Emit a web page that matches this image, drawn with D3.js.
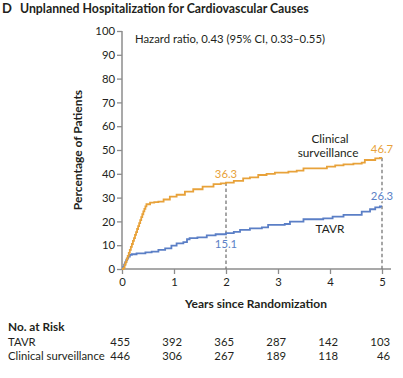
<!DOCTYPE html>
<html>
<head>
<meta charset="utf-8">
<script src="https://cdn.jsdelivr.net/npm/d3@7"></script>
<style>
  html, body { margin: 0; padding: 0; background: #fff; }
  svg { display: block; font-family: "Lato", "Open Sans", sans-serif; }
</style>
</head>
<body>
<div id="chart"></div>
<script>
// ---- data ----
const xTicks = [0, 1, 2, 3, 4, 5];
const yTicks = [0, 10, 20, 30, 40, 50, 60, 70, 80, 90, 100];

const survT = [0, 0.03, 0.05, 0.07, 0.09, 0.11, 0.13, 0.15, 0.17, 0.19, 0.21, 0.23, 0.25, 0.27, 0.29, 0.31, 0.33, 0.35, 0.37, 0.39, 0.41, 0.43, 0.45, 0.47, 0.54, 0.62, 0.7, 0.8, 0.92, 1.05, 1.21, 1.37, 1.55, 1.76, 1.9, 2.0, 2.15, 2.33, 2.46, 2.62, 2.78, 2.94, 3.2, 3.36, 3.49, 3.71, 3.94, 4.1, 4.26, 4.45, 4.61, 4.67, 4.87, 4.96, 5.0];
const survV = [0, 0.5, 1.8, 3.0, 4.3, 5.5, 6.8, 8.0, 9.3, 10.5, 11.8, 13.0, 14.3, 15.5, 16.8, 18.0, 19.3, 20.5, 21.8, 23.0, 24.2, 25.3, 26.3, 27.2, 27.9, 28.1, 28.3, 29.2, 30.4, 31.2, 32.5, 33.5, 34.6, 35.7, 36.0, 36.3, 37.0, 38.1, 38.5, 39.5, 40.0, 40.5, 40.9, 41.3, 42.3, 42.3, 43.0, 43.5, 44.0, 44.3, 44.7, 45.8, 46.5, 46.7, 46.7];

const tavrT = [0, 0.02, 0.04, 0.06, 0.08, 0.1, 0.12, 0.15, 0.19, 0.28, 0.45, 0.57, 0.7, 0.83, 0.95, 1.05, 1.18, 1.25, 1.3, 1.45, 1.63, 1.8, 2.0, 2.15, 2.27, 2.46, 2.69, 2.81, 3.13, 3.23, 3.49, 3.71, 3.87, 4.05, 4.26, 4.51, 4.61, 4.77, 4.87, 4.96, 5.0];
const tavrV = [0, 0.8, 1.8, 2.8, 3.7, 4.5, 5.2, 5.9, 6.2, 6.6, 7.0, 7.3, 8.0, 8.7, 9.8, 10.8, 11.3, 12.5, 13.0, 13.3, 14.1, 14.6, 15.1, 15.6, 16.4, 17.1, 17.5, 18.5, 18.9, 19.9, 20.9, 20.9, 21.3, 22.0, 22.7, 22.7, 24.1, 25.1, 25.9, 26.3, 26.3];

const markerYears = [2, 5];
const survMarks = [36.3, 46.7];
const tavrMarks = [15.1, 26.3];

const riskLabels = ["TAVR", "Clinical surveillance"];
const riskTAVR = [455, 392, 365, 287, 142, 103];
const riskSurv = [446, 306, 267, 189, 118, 46];

// ---- drawing ----
const W = 403, H = 378;
const orange = "#E8A23A", blue = "#5B7FC6", axisCol = "#8c8c8c", txt = "#231f20";

const svg = d3.select("#chart").append("svg").attr("width", W).attr("height", H);

const x = d3.scaleLinear().domain([0, 5]).range([122, 382]);
const y = d3.scaleLinear().domain([0, 100]).range([269, 31]);

// title
svg.append("text").attr("x", 2).attr("y", 13).attr("font-weight", 700).attr("font-size", 13)
  .attr("fill", txt).text("D");
svg.append("text").attr("x", 20).attr("y", 13).attr("font-weight", 700).attr("font-size", 12.3)
  .attr("fill", txt).text("Unplanned Hospitalization for Cardiovascular Causes");

// axes
const yAxis = d3.axisLeft(y).tickValues(yTicks).tickSize(5).tickPadding(2).tickFormat(d3.format("d"));
const gy = svg.append("g").attr("transform", `translate(${x(0)},0)`).call(yAxis);
gy.select(".domain").remove();
gy.append("line").attr("x1", 0).attr("x2", 0).attr("y1", y(100)).attr("y2", y(0))
  .attr("stroke", axisCol).attr("stroke-width", 1.5);
gy.selectAll(".tick line").attr("stroke", axisCol).attr("stroke-width", 1.3);
gy.selectAll(".tick text").attr("font-size", 11.3).attr("fill", txt).attr("font-family", "Lato, sans-serif");

const xAxis = d3.axisBottom(x).tickValues(xTicks).tickSize(5).tickPadding(4).tickFormat(d3.format("d"));
const gx = svg.append("g").attr("transform", `translate(0,${y(0)})`).call(xAxis);
gx.select(".domain").remove();
gx.append("line").attr("x1", x(0)).attr("x2", 391).attr("y1", 0).attr("y2", 0)
  .attr("stroke", axisCol).attr("stroke-width", 1.5);
gx.selectAll(".tick line").attr("stroke", axisCol).attr("stroke-width", 1.3);
gx.selectAll(".tick text").attr("font-size", 11.3).attr("fill", txt).attr("font-family", "Lato, sans-serif");

// axis titles
svg.append("text").attr("transform", "translate(82,150) rotate(-90)").attr("text-anchor", "middle")
  .attr("font-weight", 700).attr("font-size", 12).attr("fill", txt).text("Percentage of Patients");
svg.append("text").attr("x", 256).attr("y", 308).attr("text-anchor", "middle")
  .attr("font-weight", 700).attr("font-size", 12).attr("fill", txt).text("Years since Randomization");

// hazard ratio
svg.append("text").attr("x", 135).attr("y", 43).attr("font-size", 11.3).attr("fill", txt)
  .text("Hazard ratio, 0.43 (95% CI, 0.33\u20130.55)");

// dashed markers
markerYears.forEach((t, i) => {
  svg.append("line").attr("x1", x(t)).attr("x2", x(t)).attr("y1", y(survMarks[i])).attr("y2", y(0))
    .attr("stroke", "#777").attr("stroke-width", 1.3).attr("stroke-dasharray", "3.5,2.5");
});

// curves
const line = d3.line().x(d => x(d[0])).y(d => y(d[1])).curve(d3.curveStepAfter);
svg.append("path").datum(d3.zip(tavrT, tavrV)).attr("d", line)
  .attr("fill", "none").attr("stroke", blue).attr("stroke-width", 1.8);
svg.append("path").datum(d3.zip(survT, survV)).attr("d", line)
  .attr("fill", "none").attr("stroke", orange).attr("stroke-width", 1.8);

// value labels
function valLabel(t, v, dy, col) {
  svg.append("text").attr("x", x(t)).attr("y", y(v) + dy).attr("text-anchor", "middle")
    .attr("font-size", 11.3).attr("fill", col)
    .attr("stroke", "#fff").attr("stroke-width", 3).attr("paint-order", "stroke")
    .text(v.toFixed(1));
}
valLabel(2, survMarks[0], -5, orange);
valLabel(2, tavrMarks[0], 15, blue);
valLabel(5, survMarks[1], -5, orange);
valLabel(5, tavrMarks[1], -6, blue);

// series labels
svg.append("text").attr("x", 330).attr("y", 143).attr("text-anchor", "middle")
  .attr("font-size", 11.8).attr("fill", txt).text("Clinical");
svg.append("text").attr("x", 328).attr("y", 157).attr("text-anchor", "middle")
  .attr("font-size", 11.8).attr("fill", txt).text("surveillance");
svg.append("text").attr("x", 330).attr("y", 233).attr("text-anchor", "middle")
  .attr("font-size", 11.8).attr("fill", txt).text("TAVR");

// number at risk
svg.append("text").attr("x", 8).attr("y", 331).attr("font-weight", 700).attr("font-size", 11.8)
  .attr("fill", txt).text("No. at Risk");
const rows = [riskTAVR, riskSurv];
rows.forEach((vals, r) => {
  const yy = 346 + r * 14;
  svg.append("text").attr("x", 8).attr("y", yy).attr("font-size", 11.3).attr("fill", txt).text(riskLabels[r]);
  vals.forEach((v, i) => {
    svg.append("text").attr("x", x(xTicks[i]) + 8).attr("y", yy).attr("text-anchor", "end")
      .attr("font-size", 11.3).attr("fill", txt).text(v);
  });
});
</script>
</body>
</html>
